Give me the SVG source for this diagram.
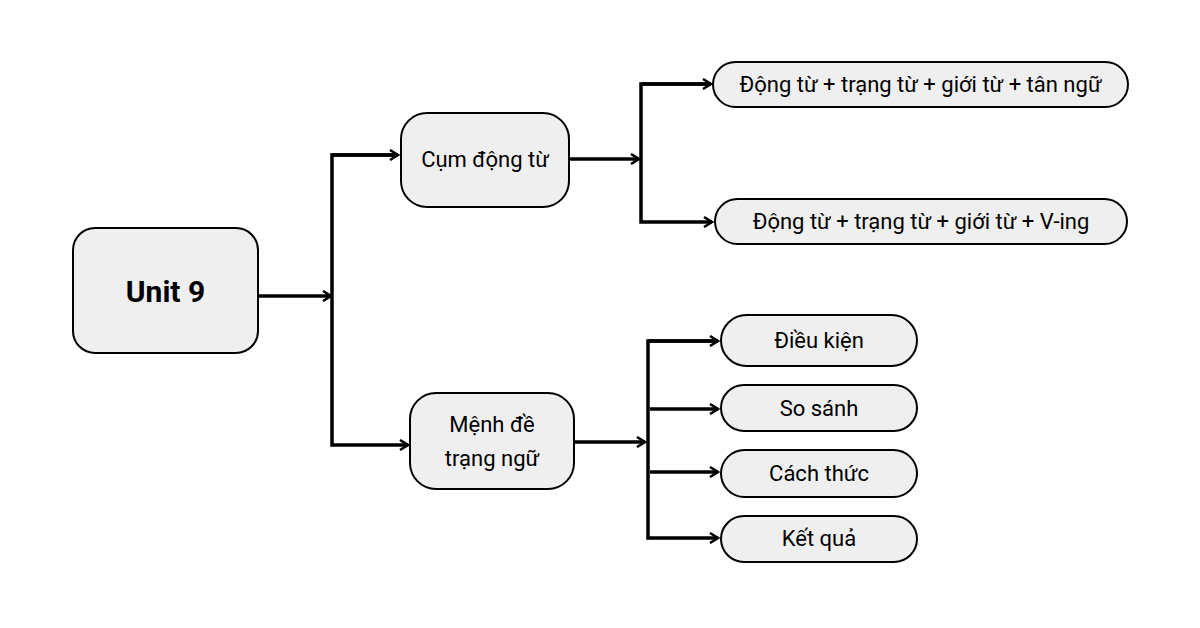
<svg xmlns="http://www.w3.org/2000/svg" width="1200" height="628" viewBox="0 0 1200 628">
<defs>
<marker id="ah" viewBox="0 0 12 12" refX="10" refY="6" markerWidth="12" markerHeight="12" markerUnits="userSpaceOnUse" orient="auto">
<path d="M2,1 L10,6 L2,11" fill="none" stroke="#000" stroke-width="2.5"/>
</marker>
<style>
.n{fill:#efefef;stroke:#000;stroke-width:2}
.t{font-family:Roboto,"Liberation Sans",sans-serif;font-size:22px;fill:#000;text-anchor:middle;dominant-baseline:central}
.c line,.c polyline{stroke:#000;stroke-width:3.5;fill:none}
</style>
</defs>
<rect width="1200" height="628" fill="#fff"/>
<g class="c">
<line x1="259" y1="296" x2="331" y2="296" marker-end="url(#ah)"/>
<polyline points="398,155 332,155 332,445 408,445" marker-end="url(#ah)"/>
<polyline points="332,155 398,155" marker-end="url(#ah)"/>
<line x1="570" y1="159" x2="639" y2="159" marker-end="url(#ah)"/>
<polyline points="711,84 641,84 641,222 712,222" marker-end="url(#ah)"/>
<polyline points="641,84 711,84" marker-end="url(#ah)"/>
<line x1="575" y1="442" x2="645" y2="442" marker-end="url(#ah)"/>
<polyline points="718,341 648,341 648,538 718,538" marker-end="url(#ah)"/>
<polyline points="648,341 718,341" marker-end="url(#ah)"/>
<line x1="650" y1="409" x2="718" y2="409" marker-end="url(#ah)"/>
<line x1="650" y1="472" x2="718" y2="472" marker-end="url(#ah)"/>
</g>
<g id="unit9"><rect class="n" x="73" y="228" width="185" height="125" rx="22"/><text class="t" x="165.5" y="291" style="font-size:30px;font-weight:bold">Unit 9</text></g>
<g id="cum"><rect class="n" x="401" y="113" width="168" height="94" rx="26"/><text class="t" x="485" y="159">Cụm động từ</text></g>
<g id="menh"><rect class="n" x="410" y="393" width="164" height="96" rx="26"/><text class="t" x="492" y="424">Mệnh đề</text><text class="t" x="492" y="458">trạng ngữ</text></g>
<g id="p1"><rect class="n" x="713" y="62" width="415" height="45" rx="22.5"/><text class="t" x="920.5" y="84">Động từ + trạng từ + giới từ + tân ngữ</text></g>
<g id="p2"><rect class="n" x="715" y="199" width="412" height="45" rx="22.5"/><text class="t" x="921" y="221">Động từ + trạng từ + giới từ + V-ing</text></g>
<g id="d1"><rect class="n" x="721" y="315" width="196" height="51" rx="25.5"/><text class="t" x="819" y="340">Điều kiện</text></g>
<g id="d2"><rect class="n" x="721" y="385" width="196" height="46" rx="23"/><text class="t" x="819" y="408">So sánh</text></g>
<g id="d3"><rect class="n" x="721" y="450" width="196" height="47" rx="23.5"/><text class="t" x="819" y="473">Cách thức</text></g>
<g id="d4"><rect class="n" x="721" y="516" width="196" height="46" rx="23"/><text class="t" x="819" y="538">Kết quả</text></g>
</svg>
